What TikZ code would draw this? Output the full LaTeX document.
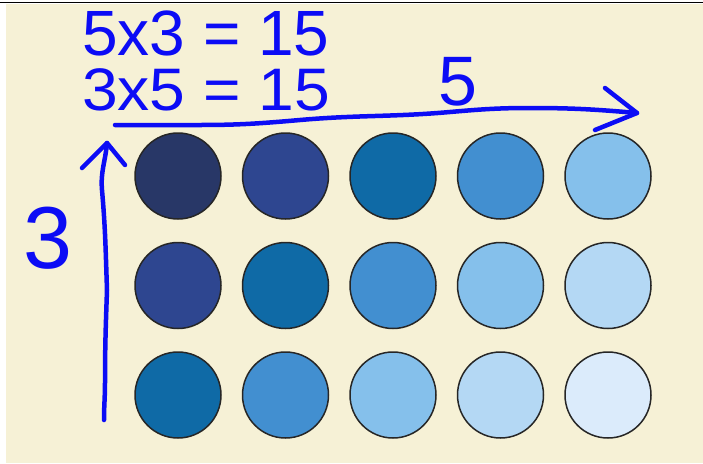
\documentclass[tikz,border=0pt]{standalone}
\usepackage{fontspec}
\setmainfont{Liberation Sans}
\definecolor{cream}{HTML}{F6F1D6}
\definecolor{pen}{RGB}{12,12,245}
\definecolor{k0}{HTML}{283767}
\definecolor{k1}{HTML}{2E4690}
\definecolor{k2}{HTML}{0F6AA6}
\definecolor{k3}{HTML}{428FD0}
\definecolor{k4}{HTML}{85C0EB}
\definecolor{k5}{HTML}{B4D8F4}
\definecolor{k6}{HTML}{DBEBFB}
\tikzset{
  dot/.style={circle, draw=black!85, line width=1.5pt, minimum size=86pt, inner sep=0pt},
  penline/.style={draw=pen, line width=4.5pt, line cap=round, line join=round},
  hand/.style={text=pen, inner sep=0pt}
}
\begin{document}
\begin{tikzpicture}[x=1pt,y=-1pt]
\useasboundingbox (0,0) rectangle (703,463);
\fill[white] (0,0) rectangle (703,463);
\fill[cream] (6,4) rectangle (703,463);
\draw[black, line width=1.8pt] (0,2.5) -- (703,2.5);
% circles
\foreach \r/\y in {0/176,1/285.5,2/395}{
  \foreach \c/\x in {0/178,1/285.5,2/393,3/500.5,4/608}{
    \pgfmathtruncatemacro{\k}{\r+\c}
    \node[dot, fill=k\k] (c-\r-\c) at (\x,\y) {};
  }
}
% texts
\node[hand, anchor=base west] (eq1) at (82,55) {\fontsize{64}{64}\selectfont 5x3 = 15};
\node[hand, anchor=base west] (eq2) at (82,110) {\scalebox{1.07}[1]{\fontsize{60}{60}\selectfont 3x5 = 15}};
\node[hand, anchor=base] (five) at (458,105) {\fontsize{70}{70}\selectfont 5};
\node[hand, anchor=base] (three) at (48,268) {\fontsize{88}{88}\selectfont 3};
% horizontal arrow
\coordinate (hs) at (115,125);
\coordinate (ht) at (637,113);
\coordinate (hu) at (605,88);
\coordinate (hl) at (595,130);
\path[penline] (hs) to[out=0,in=180] (200,125) to[out=0,in=185] (300,120)
  to[out=5,in=185] (450,112) to[out=5,in=180] (530,108) to[out=0,in=175] (ht);
\path[penline] (hu) -- (ht) -- (hl);
% vertical arrow
\coordinate (vs) at (104,420);
\coordinate (vt) at (107,143);
\coordinate (vl) at (82,168);
\coordinate (vr) at (125,165);
\path[penline] (vs) to[out=90,in=-90] (105,383) to[out=90,in=-92] (107,290)
  to[out=92,in=-85] (102,190) to[out=95,in=-95] (vt);
\path[penline] (vl) -- (vt) -- (vr);
\end{tikzpicture}
\end{document}
